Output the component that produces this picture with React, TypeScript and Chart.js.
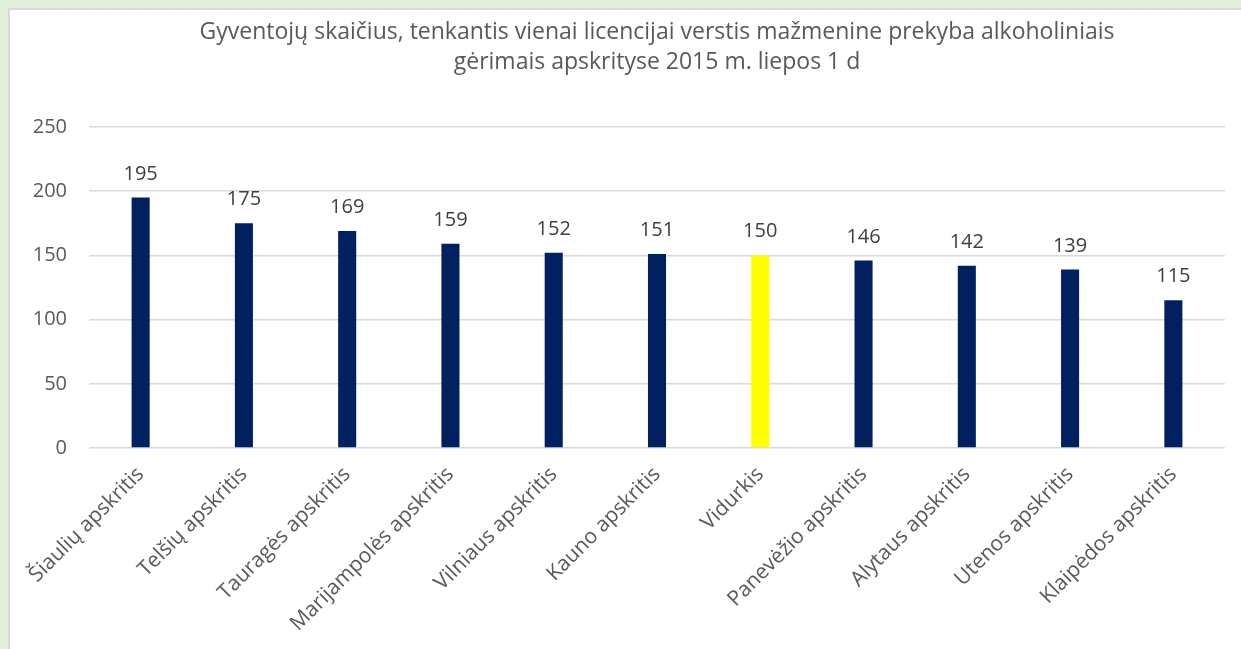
import React, { useEffect, useRef } from "react";
import { Chart, registerables } from "chart.js";

Chart.register(...registerables);

const categories = [
  "Šiaulių apskritis",
  "Telšių apskritis",
  "Tauragės apskritis",
  "Marijampolės apskritis",
  "Vilniaus apskritis",
  "Kauno apskritis",
  "Vidurkis",
  "Panevėžio apskritis",
  "Alytaus apskritis",
  "Utenos apskritis",
  "Klaipėdos apskritis",
];
const values = [195, 175, 169, 159, 152, 151, 150, 146, 142, 139, 115];
const barColors = [
  "#002060", "#002060", "#002060", "#002060", "#002060", "#002060",
  "#FFFF00", "#002060", "#002060", "#002060", "#002060",
];
const titleLines = [
  "Gyventojų skaičius, tenkantis vienai licencijai verstis mažmenine prekyba alkoholiniais",
  "gėrimais apskrityse 2015 m. liepos 1 d",
];
const yMax = 250;
const yStep = 50;

const FONT = "'Open Sans', sans-serif";

const bgPlugin = {
  id: "bgPanel",
  beforeDraw(chart: any) {
    const { ctx, width, height } = chart;
    ctx.save();
    ctx.fillStyle = "#e2efd9";
    ctx.fillRect(0, 0, width, height);
    ctx.fillStyle = "#d9d9d9";
    ctx.fillRect(8, 8, width - 8, height - 8);
    ctx.fillStyle = "#ffffff";
    ctx.fillRect(10, 10, width - 10, height - 10);
    ctx.restore();
  },
};

const titlePlugin = {
  id: "customTitle",
  afterDraw(chart: any) {
    const { ctx, chartArea } = chart;
    const cx = (chartArea.left + chartArea.right) / 2;
    ctx.save();
    ctx.fillStyle = "#595959";
    ctx.font = `23px ${FONT}`;
    ctx.textAlign = "center";
    ctx.textBaseline = "middle";
    ctx.fillText(titleLines[0], cx, 32);
    ctx.fillText(titleLines[1], cx, 62);
    ctx.restore();
  },
};

const labelPlugin = {
  id: "dataLabels",
  afterDatasetsDraw(chart: any) {
    const { ctx } = chart;
    const meta = chart.getDatasetMeta(0);
    ctx.save();
    ctx.fillStyle = "#404040";
    ctx.font = `20px ${FONT}`;
    ctx.textAlign = "center";
    ctx.textBaseline = "alphabetic";
    meta.data.forEach((bar: any, i: number) => {
      ctx.fillText(String(values[i]), bar.x, bar.y - 18);
    });
    ctx.restore();
  },
};

export default function App() {
  const ref = useRef<HTMLCanvasElement>(null);
  useEffect(() => {
    if (!ref.current) return;
    const chart = new Chart(ref.current, {
      type: "bar",
      data: {
        labels: categories,
        datasets: [
          {
            data: values,
            backgroundColor: barColors,
            barPercentage: 0.7,
            categoryPercentage: 0.25,
          },
        ],
      },
      options: {
        animation: false,
        responsive: false,
        layout: { padding: { top: 127, right: 16, bottom: 0, left: 0 } },
        plugins: {
          legend: { display: false },
          title: { display: false },
          tooltip: { enabled: false },
        },
        scales: {
          x: {
            grid: { display: false },
            border: { display: false },
            ticks: {
              minRotation: 45,
              maxRotation: 45,
              autoSkip: false,
              padding: 6,
              color: "#595959",
              font: { family: FONT, size: 21 },
            },
            afterFit(scale: any) {
              scale.height = 201;
            },
          },
          y: {
            min: 0,
            max: yMax,
            ticks: {
              stepSize: yStep,
              padding: 22,
              color: "#595959",
              font: { family: FONT, size: 20 },
            },
            grid: { color: "#d9d9d9", lineWidth: 1.5, drawTicks: false },
            border: { display: false },
            afterFit(scale: any) {
              scale.width = 89;
            },
          },
        },
      },
      plugins: [bgPlugin, titlePlugin, labelPlugin],
    });
    return () => chart.destroy();
  }, []);
  return (
    <div style={{ position: "fixed", left: 0, top: 0, width: 1241, height: 649 }}>
      <canvas ref={ref} width={1241} height={649} />
    </div>
  );
}
